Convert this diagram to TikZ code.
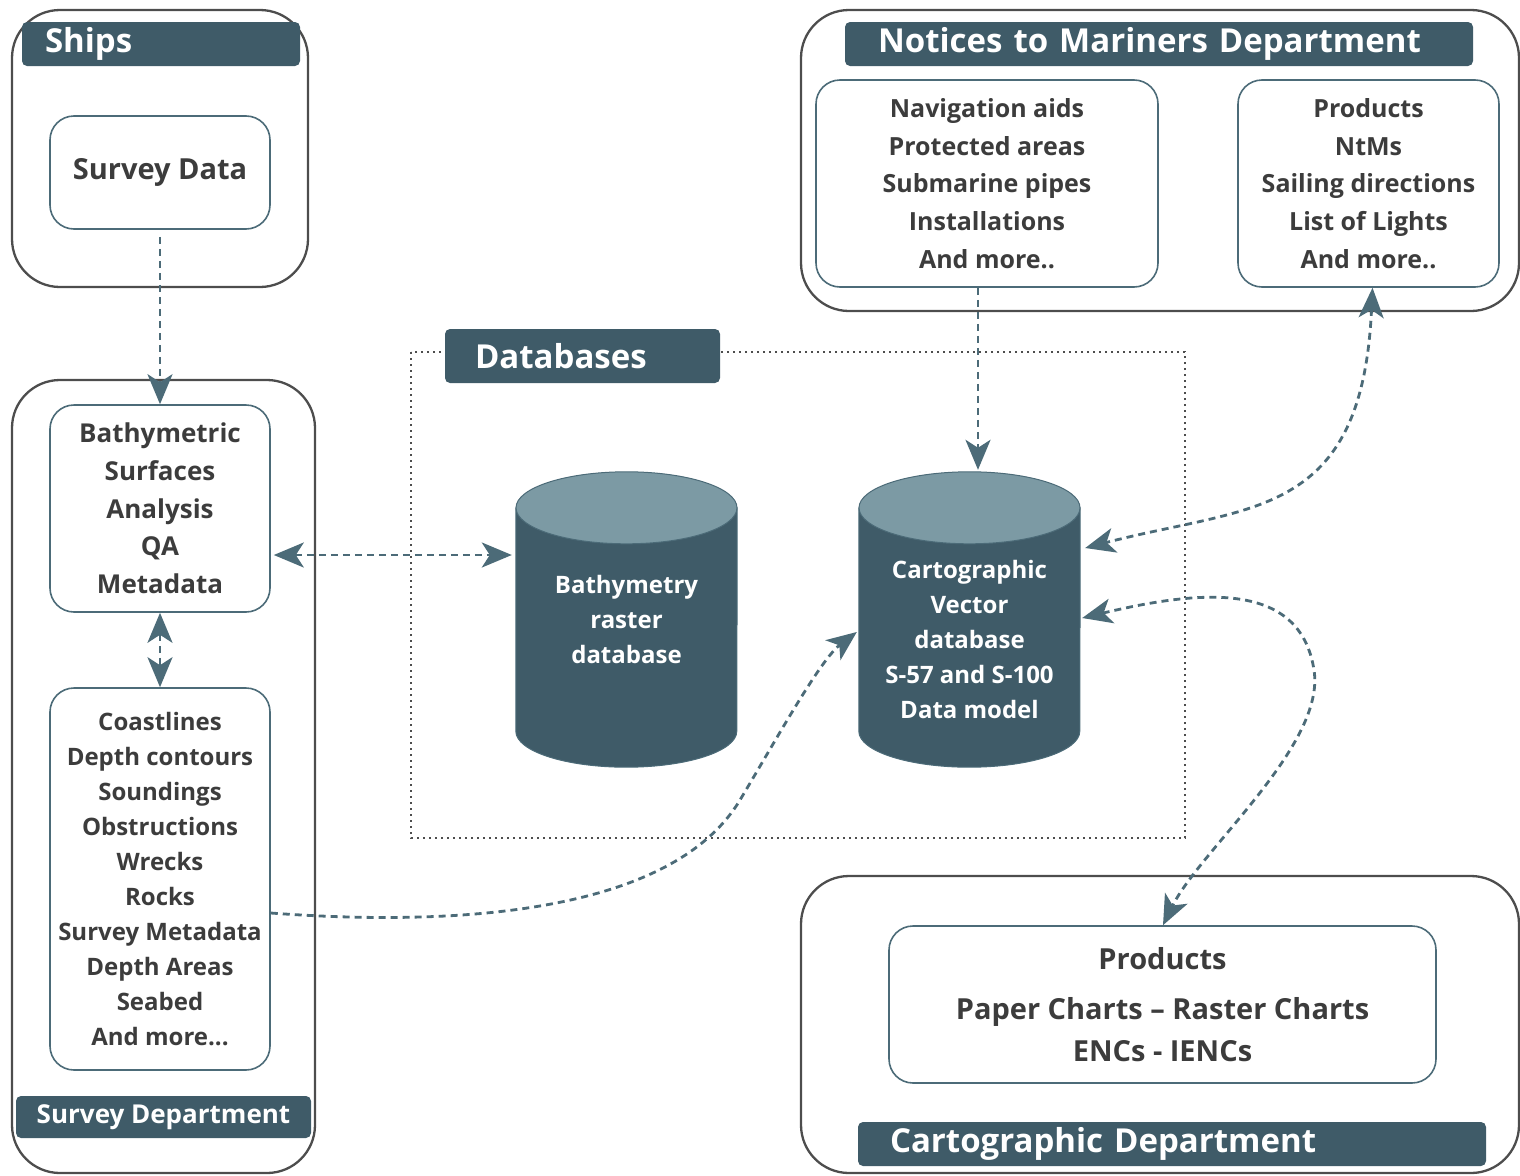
\documentclass[tikz,border=0pt]{standalone}
\usepackage{fontspec}
\setmainfont{Open Sans}
\usetikzlibrary{arrows.meta}

\definecolor{hdrblue}{HTML}{3F5B68}
\definecolor{dbcap}{HTML}{7C9AA4}
\definecolor{inktext}{HTML}{3C3C3C}
\definecolor{framegray}{HTML}{4D4D4D}
\definecolor{boxline}{HTML}{4C6B78}

\newcommand{\fsz}[2]{\fontsize{#1}{#2}\selectfont}

\begin{document}
\begin{tikzpicture}[x=1pt, y=-1pt,
    >={Stealth[length=30pt, width=25pt, inset=8pt]},
    frame/.style={draw=framegray, line width=2.3pt, rounded corners=48pt},
    bar/.style={fill=hdrblue, rounded corners=5pt, text=white, inner sep=0pt, font=\bfseries\fsz{33}{40}},
    infobox/.style={draw=boxline, line width=1.6pt, rounded corners=24pt, text=inktext, inner sep=0pt, align=center},
    dbshape/.style={minimum width=221pt, minimum height=295pt, inner sep=0pt},
    dbtext/.style={text=white, align=center, font=\bfseries\fsz{24}{35}},
    dbframe/.style={draw=framegray, line width=2.3pt, dash pattern=on 2pt off 4pt},
    flow/.style={draw=boxline, line width=2.8pt, dash pattern=on 7pt off 5pt}]

    \useasboundingbox (0,0) rectangle (1520,1175);

    % Ships
    \draw[frame] (12,10) rectangle (308,287);
    \node[bar, minimum width=278pt, minimum height=44pt, text width=232pt, align=left] (shipsbar) at (161,44) {Ships};
    \node[infobox, minimum width=220pt, minimum height=113pt, font=\bfseries\fsz{29}{35}] (survdata) at (160,172.5) {Survey Data};

    % Survey department
    \draw[frame] (12,380) rectangle (315,1173);
    \node[infobox, minimum width=220pt, minimum height=207pt, font=\bfseries\fsz{26}{37.7}] (bathy) at (160,508.5) {Bathymetric\\Surfaces\\Analysis\\QA\\Metadata};
    \node[infobox, minimum width=220pt, minimum height=382pt, font=\bfseries\fsz{24}{35.1}] (coast) at (160,879) {Coastlines\\Depth contours\\Soundings\\Obstructions\\Wrecks\\Rocks\\Survey Metadata\\Depth Areas\\Seabed\\And more...};
    \node[bar, minimum width=295pt, minimum height=42pt, font=\bfseries\fsz{26}{32}] (survbar) at (163.5,1117) {Survey Department};

    % Notices to mariners
    \draw[frame] (801,10) rectangle (1519,311);
    \node[bar, minimum width=628pt, minimum height=44pt, text width=562pt, align=left] (ntmbar) at (1159,44) {Notices to Mariners Department};
    \node[infobox, minimum width=342pt, minimum height=207pt, font=\bfseries\fsz{25}{37.7}] (nav) at (987,183.5) {Navigation aids\\Protected areas\\Submarine pipes\\Installations\\And more..};
    \node[infobox, minimum width=261pt, minimum height=207pt, font=\bfseries\fsz{25}{37.7}] (ntmprod) at (1368.5,183.5) {Products\\NtMs\\Sailing directions\\List of Lights\\And more..};

    % Databases
    \draw[dbframe] (411,352) rectangle (1185,838);
    \node[bar, minimum width=275pt, minimum height=54pt, text width=215pt, align=left] (dbbar) at (582.5,356) {Databases};

    \node[dbshape] (rastdb) at (626.5,619.5) {};
    \node[dbshape] (cartdb) at (969.5,619.5) {};
    \foreach \db in {rastdb, cartdb} {
        \filldraw[fill=hdrblue, draw=boxline, line width=1pt] ([yshift=-36pt]\db.north west) -- ([yshift=36pt]\db.south west)
            arc[start angle=180, end angle=0, x radius=110.5, y radius=36] -- ([yshift=-36pt]\db.north east) -- cycle;
        \filldraw[fill=dbcap, draw=boxline, line width=1pt] ([yshift=-36pt]\db.north) ellipse[x radius=110.5, y radius=36];
    }
    \node[dbtext] (rasttext) at (rastdb) {Bathymetry\\raster\\database};
    \node[dbtext] (carttext) at ([yshift=-20pt]cartdb.center) {Cartographic\\Vector\\database\\S-57 and S-100\\Data model};

    % Cartographic department
    \draw[frame] (801,876) rectangle (1519,1173);
    \node[infobox, minimum width=547pt, minimum height=157pt, font=\bfseries\fsz{29}{42}] (chartprod) at (1162.5,1004.5) {Products\\[8pt]Paper Charts – Raster Charts\\ENCs - IENCs};
    \node[bar, minimum width=628pt, minimum height=44pt, text width=564pt, align=left] (cartbar) at (1172,1144) {Cartographic Department};

    % data flows
    \draw[flow, ->, shorten <=7pt] (survdata.south) -- (bathy.north);
    \draw[flow, <->] (bathy.south) -- (coast.north);
    \draw[flow, <->] ([xshift=3pt, yshift=-46.5pt]bathy.east) -- ([xshift=-4pt, yshift=64.5pt]rastdb.west);
    \draw[flow, ->] ([xshift=-9pt]nav.south) -- ([xshift=8.5pt, yshift=2pt]cartdb.north);
    \draw[flow, <->] ([xshift=4pt]ntmprod.south) .. controls (1362,520) and (1250,505) .. ([xshift=5pt, yshift=71.5pt]cartdb.east);
    \draw[flow, <->] ([xshift=2pt, yshift=1.5pt]cartdb.east) .. controls (1200,590) and (1300,580) .. (1314,670)
        .. controls (1326,745) and (1200,850) .. ([xshift=0.5pt]chartprod.north);
    \draw[flow, ->] ([yshift=-34pt]coast.east) .. controls (500,930) and (680,900) .. (740,800)
        .. controls (776,740) and (820,660) .. ([xshift=-2pt, yshift=-12.5pt]cartdb.west);

\end{tikzpicture}
\end{document}
